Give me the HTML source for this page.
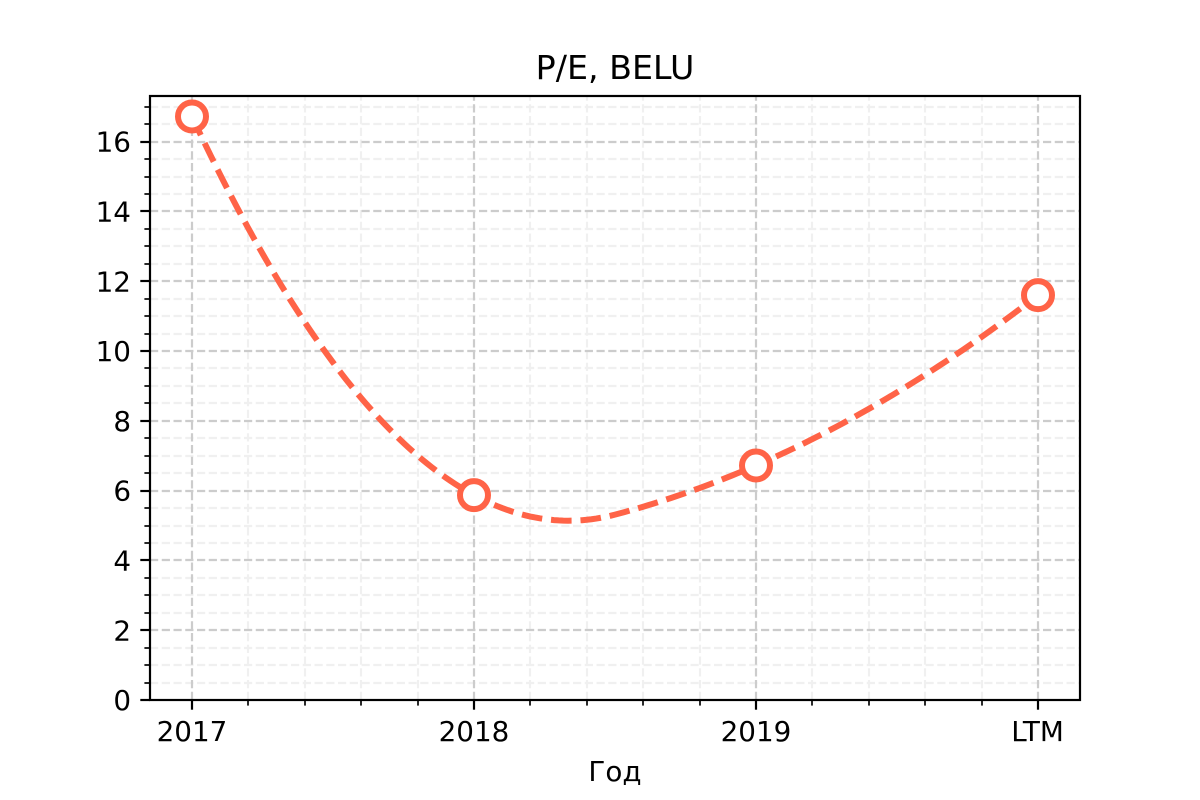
<!DOCTYPE html>
<html>
<head>
<meta charset="utf-8">
<title>P/E, BELU</title>
<style>
html,body{margin:0;padding:0;background:#fff;}
svg{display:block;}
text{font-family:"DejaVu Sans","Liberation Sans",sans-serif;fill:#000;}
</style>
</head>
<body>
<svg id="chart" xmlns="http://www.w3.org/2000/svg" width="1200" height="800" viewBox="0 0 1200 800">
  <rect x="0" y="0" width="1200" height="800" fill="#ffffff"/>
  <g id="grid-minor"></g>
  <g id="grid-major"></g>
  <path id="curve" fill="none" stroke="#ff6347" stroke-width="6" stroke-dasharray="20.6 8.9"/>
  <g id="points"></g>
  <rect x="150" y="96" width="930" height="604" fill="none" stroke="#000" stroke-width="2.2"/>
  <g id="ticks"></g>
  <g id="x-labels"></g>
  <g id="y-labels"></g>
  <text x="615" y="79" font-size="33.3" text-anchor="middle">P/E, BELU</text>
  <text x="615" y="781" font-size="27.8" text-anchor="middle">Год</text>
</svg>
<script>
const categories = ['2017', '2018', '2019', 'LTM'];
const peValues = [16.72, 5.87, 6.72, 11.6];
const yTickLabels = [0, 2, 4, 6, 8, 10, 12, 14, 16];
const yMinorStep = 0.5;
const xMinorStep = 0.2;
const yMaxTick = 17;

const NS = 'http://www.w3.org/2000/svg';
const gridDash = '8.2 3.55';
const gridWidth = 2.22;
function xAxis(i) { return 192 + i * 282; }
function yAxis(v) { return 700 - v * 34.9; }
function make(tag, attrs, parent) {
  const el = document.createElementNS(NS, tag);
  for (const k in attrs) el.setAttribute(k, attrs[k]);
  parent.appendChild(el);
  return el;
}
function isMajorX(t) { return Math.abs(t - Math.round(t)) < 1e-6; }
function isMajorY(v) { return yTickLabels.some(function (m) { return Math.abs(m - v) < 1e-6; }); }

const gridMinor = document.getElementById('grid-minor');
const gridMajor = document.getElementById('grid-major');
const ticks = document.getElementById('ticks');
const xLabels = document.getElementById('x-labels');
const yLabels = document.getElementById('y-labels');

const lastX = categories.length - 1;
const xMinorCount = Math.round(lastX / xMinorStep);
for (let n = 0; n <= xMinorCount; n++) {
  const t = n * xMinorStep;
  if (isMajorX(t)) continue;
  const px = Math.round(xAxis(t));
  const g = make('line', { x1: px, x2: px, y1: 700, y2: 96, stroke: '#f0f0f0', 'stroke-width': gridWidth, 'stroke-dasharray': gridDash }, gridMinor);
  
  
  const m = make('line', { x1: px, x2: px, y1: 700, y2: 705.6, stroke: '#000', 'stroke-width': 1.67 }, ticks);
  
  
}
const yMinorCount = Math.round(yMaxTick / yMinorStep);
for (let n = 1; n <= yMinorCount; n++) {
  const v = n * yMinorStep;
  if (isMajorY(v)) continue;
  const py = Math.round(yAxis(v));
  const g = make('line', { x1: 150, x2: 1080, y1: py, y2: py, stroke: '#f0f0f0', 'stroke-width': gridWidth, 'stroke-dasharray': gridDash }, gridMinor);
  
  
  const m = make('line', { x1: 150, x2: 144.4, y1: py, y2: py, stroke: '#000', 'stroke-width': 1.67 }, ticks);
  
  
}
categories.forEach(function (label, i) {
  const px = Math.round(xAxis(i));
  const g = make('line', { x1: px, x2: px, y1: 700, y2: 96, stroke: '#cccccc', 'stroke-width': gridWidth, 'stroke-dasharray': gridDash }, gridMajor);
  
  
  const t = make('line', { x1: px, x2: px, y1: 700, y2: 709.7, stroke: '#000', 'stroke-width': 2.2 }, ticks);
  
  
  const txt = make('text', { x: xAxis(i) - (label === 'LTM' ? 0.5 : 0), y: 741, 'font-size': 27.8, 'text-anchor': 'middle' }, xLabels);
  
  
  txt.textContent = label;
});
yTickLabels.forEach(function (v) {
  const py = Math.round(yAxis(v));
  if (v > 0) {
    const g = make('line', { x1: 150, x2: 1080, y1: py, y2: py, stroke: '#cccccc', 'stroke-width': gridWidth, 'stroke-dasharray': gridDash }, gridMajor);
    
    
  }
  const t = make('line', { x1: 150, x2: 140.3, y1: py, y2: py, stroke: '#000', 'stroke-width': 2.2 }, ticks);
  
  
  const txt = make('text', { x: 131, y: yAxis(v) + 10.1, 'font-size': 27.8, 'text-anchor': 'end' }, yLabels);
  
  
  txt.textContent = String(v);
});

// Smooth curve: quadratic interpolating spline through peValues,
// two parabolas joined smoothly at the midpoint of the index range.
function curveAt(t) {
  const y0 = peValues[0], y1 = peValues[1], y2 = peValues[2], y3 = peValues[3];
  const diff = (-0.5 * y3 + 1.5 * y2 + 0.5 * y0 - 1.5 * y1) / 0.75;
  const sum = ((y3 - y2) - (y1 - y0)) / 2;
  const a = (sum + diff) / 2;
  const c = (sum - diff) / 2;
  if (t <= 1.5) {
    const b = (y1 - y0) - a;
    return a * t * t + b * t + y0;
  }
  const s = t - 3;
  const d = c + (y3 - y2);
  return c * s * s + d * s + y3;
}
const samplesPerStep = 60;
let d = '';
for (let s = 0; s <= lastX * samplesPerStep; s++) {
  const t = s / samplesPerStep;
  d += (s === 0 ? 'M' : 'L') + xAxis(t).toFixed(2) + ' ' + yAxis(curveAt(t)).toFixed(2);
}
document.getElementById('curve').setAttribute('d', d);

const points = document.getElementById('points');
peValues.forEach(function (v, i) {
  const c = make('circle', { cx: xAxis(i), cy: yAxis(v), r: 14, fill: '#ffffff', stroke: '#ff6347', 'stroke-width': 6 }, points);
  
  
});
</script>
</body>
</html>
